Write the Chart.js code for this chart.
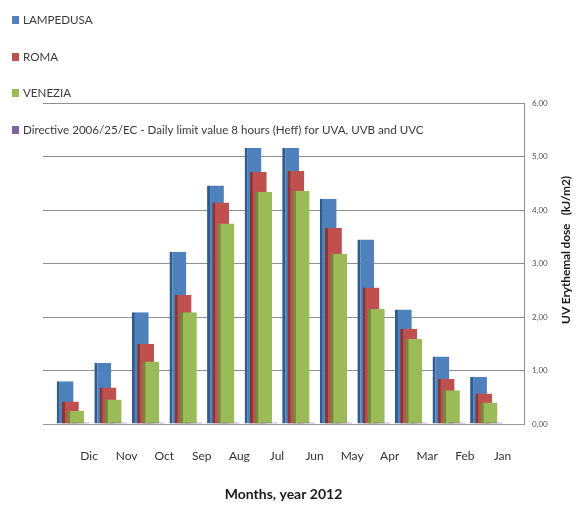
<!DOCTYPE html>
<html>
<head>
<meta charset="utf-8">
<script src="https://cdn.jsdelivr.net/npm/chart.js@4/dist/chart.umd.min.js"></script>
<style>
  html, body { margin: 0; padding: 0; background: #ffffff; }
  #wrap { width: 579px; height: 505px; position: relative; }
</style>
</head>
<body>
<div id="wrap"><canvas id="uvChart"></canvas></div>
<script>
// Months of 2012, shown from December back to January
const months = ['Dic', 'Nov', 'Oct', 'Sep', 'Aug', 'Jul', 'Jun', 'May', 'Apr', 'Mar', 'Feb', 'Jan'];

// Daily UV erythemal dose, kJ/m2
const lampedusa = [0.80, 1.14, 2.09, 3.22, 4.46, 5.16, 5.16, 4.21, 3.45, 2.14, 1.26, 0.88];
const roma      = [0.42, 0.68, 1.50, 2.41, 4.14, 4.71, 4.73, 3.67, 2.55, 1.78, 0.84, 0.57];
const venezia   = [0.25, 0.46, 1.17, 2.09, 3.75, 4.34, 4.36, 3.18, 2.15, 1.59, 0.63, 0.40];
// Directive 2006/25/EC daily limit: 30 J/m2 effective = 0.03 kJ/m2
const directive = [0.03, 0.03, 0.03, 0.03, 0.03, 0.03, 0.03, 0.03, 0.03, 0.03, 0.03, 0.03];

const seriesNames = [
  'LAMPEDUSA',
  'ROMA',
  'VENEZIA',
  'Directive 2006/25/EC - Daily limit value 8 hours (Heff) for UVA, UVB and UVC'
];

const yMin = 0, yMax = 6, yStep = 1;
const xTitle = 'Months, year 2012';
const yTitle = 'UV Erythemal dose   (kJ/m2)';

const faces = ['#4F81BD', '#C0504D', '#9BBB59', '#8064A2'];
const sides = ['#2F5C8F', '#8E3431', '#6F8C3A', '#5E4680'];

const toPoints = arr => arr.map((y, i) => ({ x: i, y }));

function barSet(i, values) {
  return {
    label: seriesNames[i],
    data: toPoints(values),
    backgroundColor: faces[i],
    borderColor: sides[i],
    borderWidth: { left: 3, top: 0, right: 0, bottom: 0 },
    borderSkipped: false,
    categoryPercentage: 0.56,
    barPercentage: 3.2
  };
}

// Paint the series front-to-back so each column overlaps the one before it
const layeredBars = {
  id: 'layeredBars',
  beforeDatasetDraw() { return false; },
  afterDatasetsDraw(chart) {
    chart.data.datasets.forEach((ds, i) => {
      const meta = chart.getDatasetMeta(i);
      if (!meta.hidden) meta.controller.draw();
    });
  }
};

// Stacked legend in the upper-left corner
const cornerLegend = {
  id: 'cornerLegend',
  afterDraw(chart) {
    const ctx = chart.ctx;
    const rows = [20, 57, 93, 130];
    ctx.save();
    ctx.font = '11.6px Lato, "Open Sans", sans-serif';
    ctx.textBaseline = 'middle';
    ctx.textAlign = 'left';
    chart.data.datasets.forEach((ds, i) => {
      const y = rows[i];
      ctx.fillStyle = ds.backgroundColor;
      ctx.fillRect(12, y - 4, 7, 8);
      ctx.fillStyle = '#3a3a3a';
      ctx.fillText(ds.label, 23, y);
    });
    ctx.restore();
  }
};

// Vertical title to the right of the value axis, reading upwards
const sideTitle = {
  id: 'sideTitle',
  afterDraw(chart) {
    const ctx = chart.ctx;
    ctx.save();
    ctx.translate(566, 250);
    ctx.rotate(-Math.PI / 2);
    ctx.font = 'bold 12px Lato, "Open Sans", sans-serif';
    ctx.letterSpacing = '-0.15px';
    ctx.fillStyle = '#1a1a1a';
    ctx.textAlign = 'center';
    ctx.textBaseline = 'middle';
    ctx.fillText(yTitle, 0, 0);
    ctx.restore();
  }
};

new Chart(document.getElementById('uvChart'), {
  type: 'bar',
  data: {
    datasets: [
      barSet(0, lampedusa),
      barSet(1, roma),
      barSet(2, venezia),
      barSet(3, directive)
    ]
  },
  options: {
    responsive: true,
    maintainAspectRatio: false,
    devicePixelRatio: 1,
    animation: false,
    layout: { padding: { left: 43, top: 103, right: 0, bottom: 0 } },
    plugins: {
      legend: { display: false },
      tooltip: { enabled: false }
    },
    scales: {
      x: {
        type: 'linear',
        min: -0.8,
        max: 12,
        offset: false,
        grid: { display: false },
        border: { display: true, color: '#9a9a9a', width: 1 },
        ticks: {
          stepSize: 1,
          includeBounds: false,
          autoSkip: false,
          maxRotation: 0,
          padding: 17,
          labelOffset: 16,
          color: '#333333',
          font: { family: 'Lato, "Open Sans", sans-serif', size: 12 },
          callback: v => months[v]
        },
        title: {
          display: true,
          text: xTitle,
          color: '#1a1a1a',
          font: { family: 'Lato, "Open Sans", sans-serif', size: 14, weight: 'bold' },
          padding: { top: 0, bottom: 2 }
        },
        afterFit: scale => { scale.height = 81; }
      },
      y: {
        position: 'right',
        min: yMin,
        max: yMax,
        grid: { color: '#8f8f8f', lineWidth: 1, drawTicks: false },
        border: { display: true, color: '#8f8f8f', width: 1 },
        ticks: {
          stepSize: yStep,
          padding: 8,
          color: '#555555',
          font: { family: 'Lato, "Open Sans", sans-serif', size: 8 },
          callback: v => v.toFixed(2).replace('.', ',')
        },
        afterFit: scale => { scale.width = 55; }
      }
    }
  },
  plugins: [layeredBars, cornerLegend, sideTitle]
});
</script>
</body>
</html>
